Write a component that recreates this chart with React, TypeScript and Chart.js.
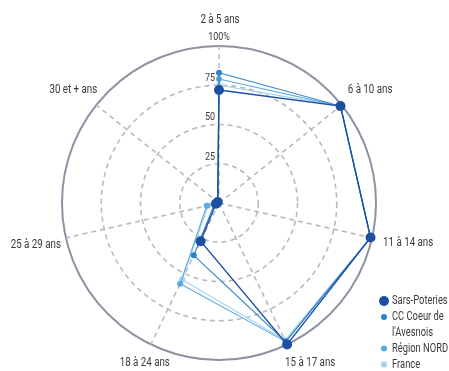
import React, { useEffect, useRef } from 'react';
import { Chart, registerables } from 'chart.js';

Chart.register(...registerables);

const categories = ['2 à 5 ans', '6 à 10 ans', '11 à 14 ans', '15 à 17 ans', '18 à 24 ans', '25 à 29 ans', '30 et + ans'];
const seriesNames = ['Sars-Poteries', "CC Coeur de l'Avesnois", 'Région NORD', 'France'];
const legendLines = [['Sars-Poteries'], ['CC Coeur de', "l'Avesnois"], ['Région NORD'], ['France']];
const sarsPoteries = [72, 99, 99, 100, 27, 2, 1];
const ccCoeurAvesnois = [83, 99, 99, 98, 37, 3, 1];
const regionNord = [79, 99, 99, 98, 57, 8, 1];
const france = [75, 99, 99, 97, 54, 7, 1];
const tickValues = [25, 50, 75, 100];
const tickLabels = ['25', '50', '75', '100%'];

const FONT = "Roboto, 'DejaVu Sans', sans-serif";
const SQUASH = 0.78;
const TEXT_COLOR = '#3a3a3a';
const colors = ['#1d4f9e', '#2f82cc', '#5aa9e0', '#a3d2f2'];
const pointRadii = [5, 3, 3, 3];
const lineWidths = [1.4, 1.1, 1.1, 1.1];

const labelPlacement: { align: CanvasTextAlign; dx: number; dy: number }[] = [
  { align: 'center', dx: 1, dy: -26 },
  { align: 'left', dx: 6, dy: -15 },
  { align: 'left', dx: 11, dy: 5 },
  { align: 'left', dx: -2, dy: 18 },
  { align: 'right', dx: 19, dy: 18 },
  { align: 'right', dx: -5, dy: 7 },
  { align: 'right', dx: 1, dy: -15 },
];

function squashText(ctx: CanvasRenderingContext2D, text: string, x: number, y: number, align: CanvasTextAlign) {
  ctx.save();
  ctx.translate(x, y);
  ctx.scale(SQUASH, 1);
  ctx.textAlign = align;
  ctx.fillText(text, 0, 0);
  ctx.restore();
}

const textPlugin = {
  id: 'customText',
  afterDraw(chart: any) {
    const scale = chart.scales.r;
    const ctx = chart.ctx as CanvasRenderingContext2D;
    ctx.save();
    ctx.fillStyle = TEXT_COLOR;
    ctx.textBaseline = 'middle';
    ctx.font = `12.5px ${FONT}`;
    categories.forEach((label, i) => {
      const p = scale.getPointPosition(i, scale.drawingArea);
      const pl = labelPlacement[i];
      squashText(ctx, label, p.x + pl.dx, p.y + pl.dy, pl.align);
    });
    ctx.font = `11.5px ${FONT}`;
    tickValues.forEach((v, i) => {
      const d = scale.getDistanceFromCenterForValue(v);
      if (i === tickValues.length - 1) {
        squashText(ctx, tickLabels[i], scale.xCenter, scale.yCenter - d - 9, 'center');
      } else {
        squashText(ctx, tickLabels[i], scale.xCenter - 4, scale.yCenter - d - 7, 'right');
      }
    });
    // legend
    const lx = 384;
    let ly = 301;
    const lineH = 15.5;
    ctx.font = `12px ${FONT}`;
    legendLines.forEach((lines, i) => {
      ctx.beginPath();
      ctx.fillStyle = colors[i];
      ctx.arc(lx, ly, pointRadii[i], 0, Math.PI * 2);
      ctx.fill();
      ctx.fillStyle = TEXT_COLOR;
      lines.forEach((l, j) => {
        squashText(ctx, l, lx + 8, ly + j * lineH, 'left');
      });
      ly += lines.length * lineH + 0.5;
    });
    ctx.restore();
  },
};

export default function App() {
  const ref = useRef<HTMLCanvasElement>(null);
  useEffect(() => {
    if (!ref.current) return;
    const allData = [sarsPoteries, ccCoeurAvesnois, regionNord, france];
    const chart = new Chart(ref.current, {
      type: 'radar',
      data: {
        labels: categories,
        datasets: allData.map((d, i) => ({
          label: seriesNames[i],
          data: d,
          borderColor: colors[i],
          backgroundColor: colors[i],
          pointBackgroundColor: colors[i],
          pointBorderColor: colors[i],
          pointRadius: pointRadii[i],
          pointBorderWidth: 0,
          borderWidth: lineWidths[i],
          fill: false,
        })),
      },
      options: {
        responsive: false,
        animation: false,
        devicePixelRatio: 1,
        layout: { padding: { left: 62, top: 46, right: 73, bottom: 11 } },
        plugins: { legend: { display: false }, tooltip: { enabled: false } },
        scales: {
          r: {
            min: 0,
            max: 100,
            ticks: { stepSize: 25, display: false },
            pointLabels: { display: false },
            grid: {
              circular: true,
              color: (c: any) => (c.tick && c.tick.value === 100 ? '#8d93a3' : '#b9b9c0'),
              lineWidth: (c: any) => (c.tick && c.tick.value === 100 ? 2 : 1.6),
            },
            border: { dash: (c: any) => (c.tick && c.tick.value === 100 ? [] : [5, 4]) },
            angleLines: { color: '#b9b9c0', lineWidth: 1.6, borderDash: [5, 4] },
          },
        },
      },
      plugins: [textPlugin],
    });
    return () => chart.destroy();
  }, []);

  return (
    <div style={{ position: 'absolute', left: 0, top: 0, width: 449, height: 371, background: '#fff' }}>
      <canvas ref={ref} width={449} height={371} style={{ display: 'block' }} />
    </div>
  );
}
